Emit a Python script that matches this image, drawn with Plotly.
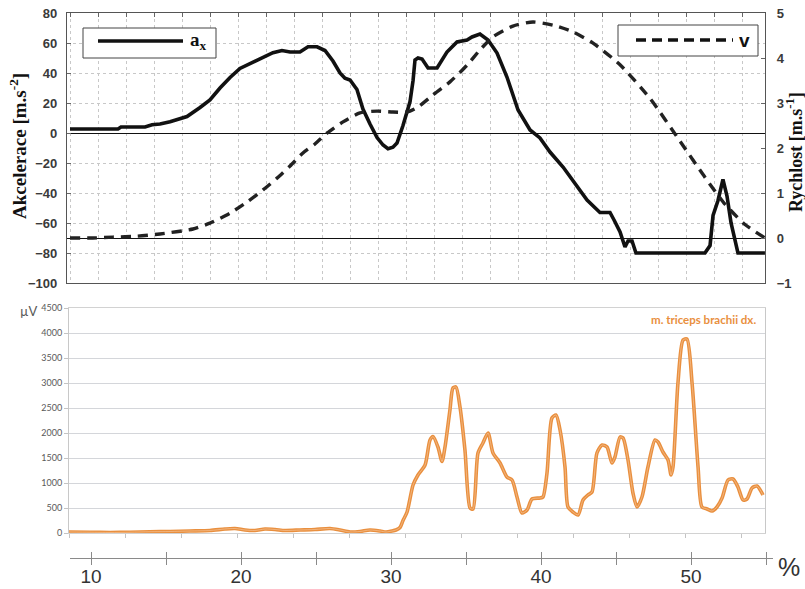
import plotly.graph_objects as go

# ---------------- data ----------------
# Acceleration a_x  [m.s^-2]  vs. movement phase [%]
ax_pct = [8.6, 11.8, 12.0, 13.6, 14.07, 14.6, 15.27, 16.4, 17.27, 17.93, 18.6, 19.27, 19.93,
          20.73, 21.47, 22.13, 22.73, 23.27, 23.93, 24.47, 25.07, 25.6, 26.13, 26.6, 26.93,
          27.27, 27.73, 28.13, 28.6, 29.07, 29.47, 29.8, 30.13, 30.4, 30.8, 31.27, 31.47,
          31.6, 31.8, 32.07, 32.47, 33.07, 33.73, 34.4, 35.07, 35.4, 35.93, 36.47, 37.07,
          37.73, 38.47, 39.27, 39.93, 40.6, 41.47, 42.4, 43.07, 43.93, 44.6, 44.87, 45.27,
          45.6, 45.8, 46.07, 46.33, 50.93, 51.27, 51.47, 51.8, 52.13, 52.4, 52.67, 53.13, 54.93]
ax_val = [2.7, 2.7, 4, 4, 5.5, 6, 7.5, 11, 17, 22, 30, 37, 43,
          47, 50.5, 53.5, 55, 54, 54, 57.5, 57.5, 55, 48, 40, 36.5,
          35.3, 29, 16, 6, -3, -8, -10.5, -9.5, -6.7, 5, 21, 35,
          48.7, 50, 49.3, 43.3, 43.3, 54, 60.7, 62, 64, 66, 62, 53.3,
          37.3, 15.3, 2, -3.3, -12.7, -22.7, -36, -44.7, -53, -53, -58, -66,
          -76, -72, -72, -80, -80, -75, -55, -45, -31, -42, -60, -80, -80]

# Velocity v  [m.s^-1]
v_pct = [8.6, 10.13, 11.47, 13.07, 14.6, 16.8, 17.93, 19.27, 20.4, 21.47, 22.4, 23.27, 24.13,
         24.93, 25.73, 26.8, 27.93, 29.07, 30.13, 31.07, 31.8, 32.8, 33.93, 35.07, 35.93,
         36.8, 38.13, 39.47, 40.8, 42.13, 43.47, 45.27, 47.27, 49.27, 50.93, 52.27, 53.6, 54.93]
v_val = [0, 0, 0.02, 0.04, 0.09, 0.2, 0.33, 0.55, 0.8, 1.07, 1.33, 1.6, 1.89,
         2.09, 2.33, 2.58, 2.78, 2.82, 2.8, 2.8, 2.91, 3.18, 3.47, 3.84, 4.18,
         4.47, 4.71, 4.8, 4.73, 4.58, 4.33, 3.85, 3.1, 2.15, 1.35, 0.75, 0.3, 0.0]

# EMG, m. triceps brachii dx.  [µV]
emg_pct = [8.53, 9.93, 11.27, 12.6, 13.93, 15.27, 16.6, 17.93, 18.93, 19.6, 20.27, 20.93,
           21.6, 22.27, 22.93, 23.93, 24.93, 25.93, 26.6, 27.27, 27.93, 28.6, 29.27, 29.67,
           30.07, 30.33, 30.6, 30.8, 31.07, 31.47, 31.8, 32.27, 32.6, 32.8, 33.13, 33.4,
           33.6, 33.93, 34.13, 34.33, 34.6, 34.93, 35.27, 35.47, 35.8, 36.13, 36.47, 36.8,
           37.27, 37.73, 38.07, 38.4, 38.73, 39.07, 39.4, 39.93, 40.13, 40.4, 40.73, 41.0,
           41.27, 41.6, 41.8, 42.13, 42.47, 42.8, 43.13, 43.4, 43.73, 44.07, 44.4, 44.73,
           44.93, 45.27, 45.47, 45.8, 46.13, 46.4, 46.73, 47.13, 47.6, 47.8, 48.13, 48.47,
           48.67, 48.8, 49.13, 49.47, 49.73, 50.07, 50.47, 50.73, 51.07, 51.4, 51.73, 52.07,
           52.47, 52.8, 53.13, 53.47, 53.73, 54.07, 54.4, 54.8]
emg_val = [20, 15, 10, 15, 25, 30, 40, 50, 80, 90, 60, 50,
           80, 70, 50, 60, 70, 90, 60, 20, 30, 60, 40, 20,
           40, 60, 110, 250, 420, 960, 1160, 1360, 1860, 1930, 1720, 1430,
           1720, 2460, 2900, 2920, 2520, 1660, 500, 480, 1600, 1800, 2000, 1600,
           1400, 1120, 1060, 720, 400, 460, 680, 700, 720, 1200, 2300, 2360,
           2060, 1320, 520, 420, 360, 660, 760, 820, 1600, 1760, 1720, 1400,
           1520, 1920, 1900, 1460, 800, 520, 720, 1320, 1860, 1820, 1620, 1460,
           1160, 1320, 3000, 3860, 3880, 3000, 1320, 520, 480, 440, 520, 700,
           1060, 1080, 920, 660, 680, 900, 940, 760]

pct_tickvals = [10, 15, 20, 25, 30, 35, 40, 45, 50, 55]
pct_ticktext = ["10", "", "20", "", "30", "", "40", "", "50", ""]

# ---------------- page geometry (pixels) ----------------
W, H = 805, 589
PX_PER_PCT = 15.0          # horizontal scale of the % axis
PX_AT_10 = 91.0            # pixel column of 10 %


def px2pct(px):
    return 10 + (px - PX_AT_10) / PX_PER_PCT


def fx(px):
    return px / W


def fy(py):
    return 1 - py / H


ORANGE = "#e98f3e"
serif = "Liberation Serif, Times New Roman, serif"
sans = "Liberation Sans, Arial, sans-serif"
narrow = "Liberation Sans Narrow, Liberation Sans, Arial, sans-serif"
excel = "Lato, Open Sans, sans-serif"

fig = go.Figure()

# acceleration
fig.add_trace(go.Scatter(x=ax_pct, y=ax_val, mode="lines", xaxis="x", yaxis="y",
                         line=dict(color="#111111", width=3.6), showlegend=False,
                         hoverinfo="skip"))
# velocity (right axis)
fig.add_trace(go.Scatter(x=v_pct, y=v_val, mode="lines", xaxis="x", yaxis="y2",
                         line=dict(color="#222222", width=3.4, dash="10px,7px",
                                   shape="spline", smoothing=0.6),
                         showlegend=False, hoverinfo="skip"))
# EMG
fig.add_trace(go.Scatter(x=emg_pct, y=emg_val, mode="lines", xaxis="x2", yaxis="y3",
                         line=dict(color=ORANGE, width=3.6, shape="spline", smoothing=0.7),
                         showlegend=False, hoverinfo="skip"))
fig.add_trace(go.Scatter(x=emg_pct, y=emg_val, mode="lines", xaxis="x2", yaxis="y3",
                         line=dict(color="rgba(255,240,225,0.55)", width=0.7,
                                   shape="spline", smoothing=0.7),
                         showlegend=False, hoverinfo="skip"))
# carriers for the shared % axis
fig.add_trace(go.Scatter(x=[pct_tickvals[0]], y=[0], mode="markers", xaxis="x3", yaxis="y4",
                         marker=dict(opacity=0), showlegend=False, hoverinfo="skip"))
fig.add_trace(go.Scatter(x=[pct_tickvals[0]], y=[0], mode="markers", xaxis="x4", yaxis="y4",
                         marker=dict(opacity=0), showlegend=False, hoverinfo="skip"))

top_grid = dict(showgrid=True, gridcolor="#c8c8c8", griddash="dot", gridwidth=1)

layout = dict(
    width=W, height=H, margin=dict(l=0, r=0, t=0, b=0, autoexpand=False),
    paper_bgcolor="white", plot_bgcolor="white",
    # --- upper panel ---
    xaxis=dict(domain=[fx(67), fx(765)], range=[px2pct(67), px2pct(765)], anchor="y",
               side="top", showticklabels=False, ticks="inside", ticklen=4,
               tickcolor="#666", tick0=px2pct(70), dtick=28 / PX_PER_PCT,
               showline=True, mirror=True, linecolor="#555", linewidth=1.3,
               zeroline=False, automargin=False, **top_grid),
    yaxis=dict(domain=[fy(283), fy(13)], range=[-100, 80], dtick=20, anchor="x",
               showline=True, linecolor="#555", linewidth=1.3, ticks="inside",
               ticklen=4, tickcolor="#666", ticklabelstandoff=6, automargin=False,
               tickfont=dict(family=sans, size=13, color="#3a3a3a", weight="bold"),
               zeroline=True, zerolinecolor="#111", zerolinewidth=1.2, **top_grid),
    yaxis2=dict(range=[-1, 5], dtick=1, overlaying="y", side="right", anchor="x",
                showgrid=False, showline=True, linecolor="#555", linewidth=1.3,
                ticks="inside", ticklen=4, tickcolor="#666", ticklabelstandoff=8,
                automargin=False,
                tickfont=dict(family=sans, size=13, color="#3a3a3a", weight="bold"),
                zeroline=True, zerolinecolor="#111", zerolinewidth=1.2),
    # --- lower panel (EMG) ---
    xaxis2=dict(domain=[fx(69), fx(765)], range=[px2pct(69), px2pct(765)], anchor="y3",
                showticklabels=False, ticks="outside", ticklen=4, tickcolor="#c4c4c4",
                tick0=px2pct(69), dtick=56 / PX_PER_PCT, showgrid=False,
                showline=True, mirror=True, linecolor="#d2d2d2", linewidth=1,
                zeroline=False, automargin=False),
    yaxis3=dict(domain=[fy(533), fy(308)], range=[0, 4500], dtick=500, anchor="x2",
                showgrid=True, gridcolor="#d4d6da", gridwidth=1.2,
                showline=True, mirror=True, linecolor="#c8c8c8", linewidth=1,
                ticks="outside", ticklen=4, tickcolor="#c4c4c4", zeroline=False,
                automargin=False,
                tickfont=dict(family=excel, size=9, color="#595959")),
    # --- shared % axis ---
    yaxis4=dict(domain=[fy(558), fy(553)], visible=False, range=[0, 1], automargin=False),
    xaxis3=dict(domain=[fx(70), fx(773)], range=[px2pct(70), px2pct(773)], anchor="y4",
                showgrid=False, zeroline=False, showline=True, linecolor="#8a8a8a",
                linewidth=1.2, ticks="outside", ticklen=6, tickcolor="#8a8a8a",
                tickvals=pct_tickvals, ticktext=pct_ticktext, automargin=False,
                ticklabelstandoff=-5,
                tickfont=dict(family=narrow, size=19, color="#333")),
    xaxis4=dict(overlaying="x3", range=[px2pct(70), px2pct(773)], anchor="y4",
                showgrid=False, zeroline=False, showline=False, ticks="inside",
                ticklen=6, tickcolor="#8a8a8a", tickvals=pct_tickvals,
                showticklabels=False, automargin=False),
)
fig.update_layout(**layout)

shapes = [
    # legend box: a_x
    dict(type="rect", xref="paper", yref="paper", x0=fx(83), x1=fx(216), y0=fy(58), y1=fy(28),
         line=dict(color="#444", width=1), fillcolor="white", layer="above"),
    dict(type="line", xref="paper", yref="paper", x0=fx(98), x1=fx(183), y0=fy(41), y1=fy(41),
         line=dict(color="#111", width=3.6), layer="above"),
    # legend box: v
    dict(type="rect", xref="paper", yref="paper", x0=fx(618), x1=fx(758), y0=fy(56), y1=fy(25),
         line=dict(color="#444", width=1), fillcolor="white", layer="above"),
    dict(type="line", xref="paper", yref="paper", x0=fx(636), x1=fx(733), y0=fy(40), y1=fy(40),
         line=dict(color="#111", width=3.6, dash="10px,6px"), layer="above"),
]
fig.update_layout(shapes=shapes)

annotations = [
    dict(text="a<sub>x</sub>", x=fx(188), y=fy(41), xanchor="left", yanchor="middle",
         font=dict(family=serif, size=19, color="#111", weight="bold")),
    dict(text="v", x=fx(737), y=fy(41), xanchor="left", yanchor="middle",
         font=dict(family=sans, size=19, color="#111", weight="bold")),
    dict(text="Akcelerace [m.s<sup>-2</sup>]", x=fx(18), y=fy(146), textangle=-90,
         xanchor="center", yanchor="middle",
         font=dict(family=serif, size=19, color="#111", weight="bold")),
    dict(text="Rychlost [m.s<sup>-1</sup>]", x=fx(794), y=fy(152), textangle=-90,
         xanchor="center", yanchor="middle", borderpad=0,
         font=dict(family=serif, size=18, color="#111", weight="bold")),
    dict(text="µV", x=fx(28), y=fy(311), xanchor="center", yanchor="middle",
         font=dict(family=excel, size=13, color="#595959")),
    dict(text="m. triceps brachii dx.", x=fx(758), y=fy(319), xanchor="right",
         yanchor="middle", font=dict(family=excel, size=11.5, color=ORANGE, weight="bold")),
    dict(text="%", x=fx(789), y=fy(567), xanchor="center", yanchor="middle",
         font=dict(family=narrow, size=25, color="#333")),
]
for a in annotations:
    a.update(xref="paper", yref="paper", showarrow=False)
fig.update_layout(annotations=annotations)

fig.write_html("out.html")
